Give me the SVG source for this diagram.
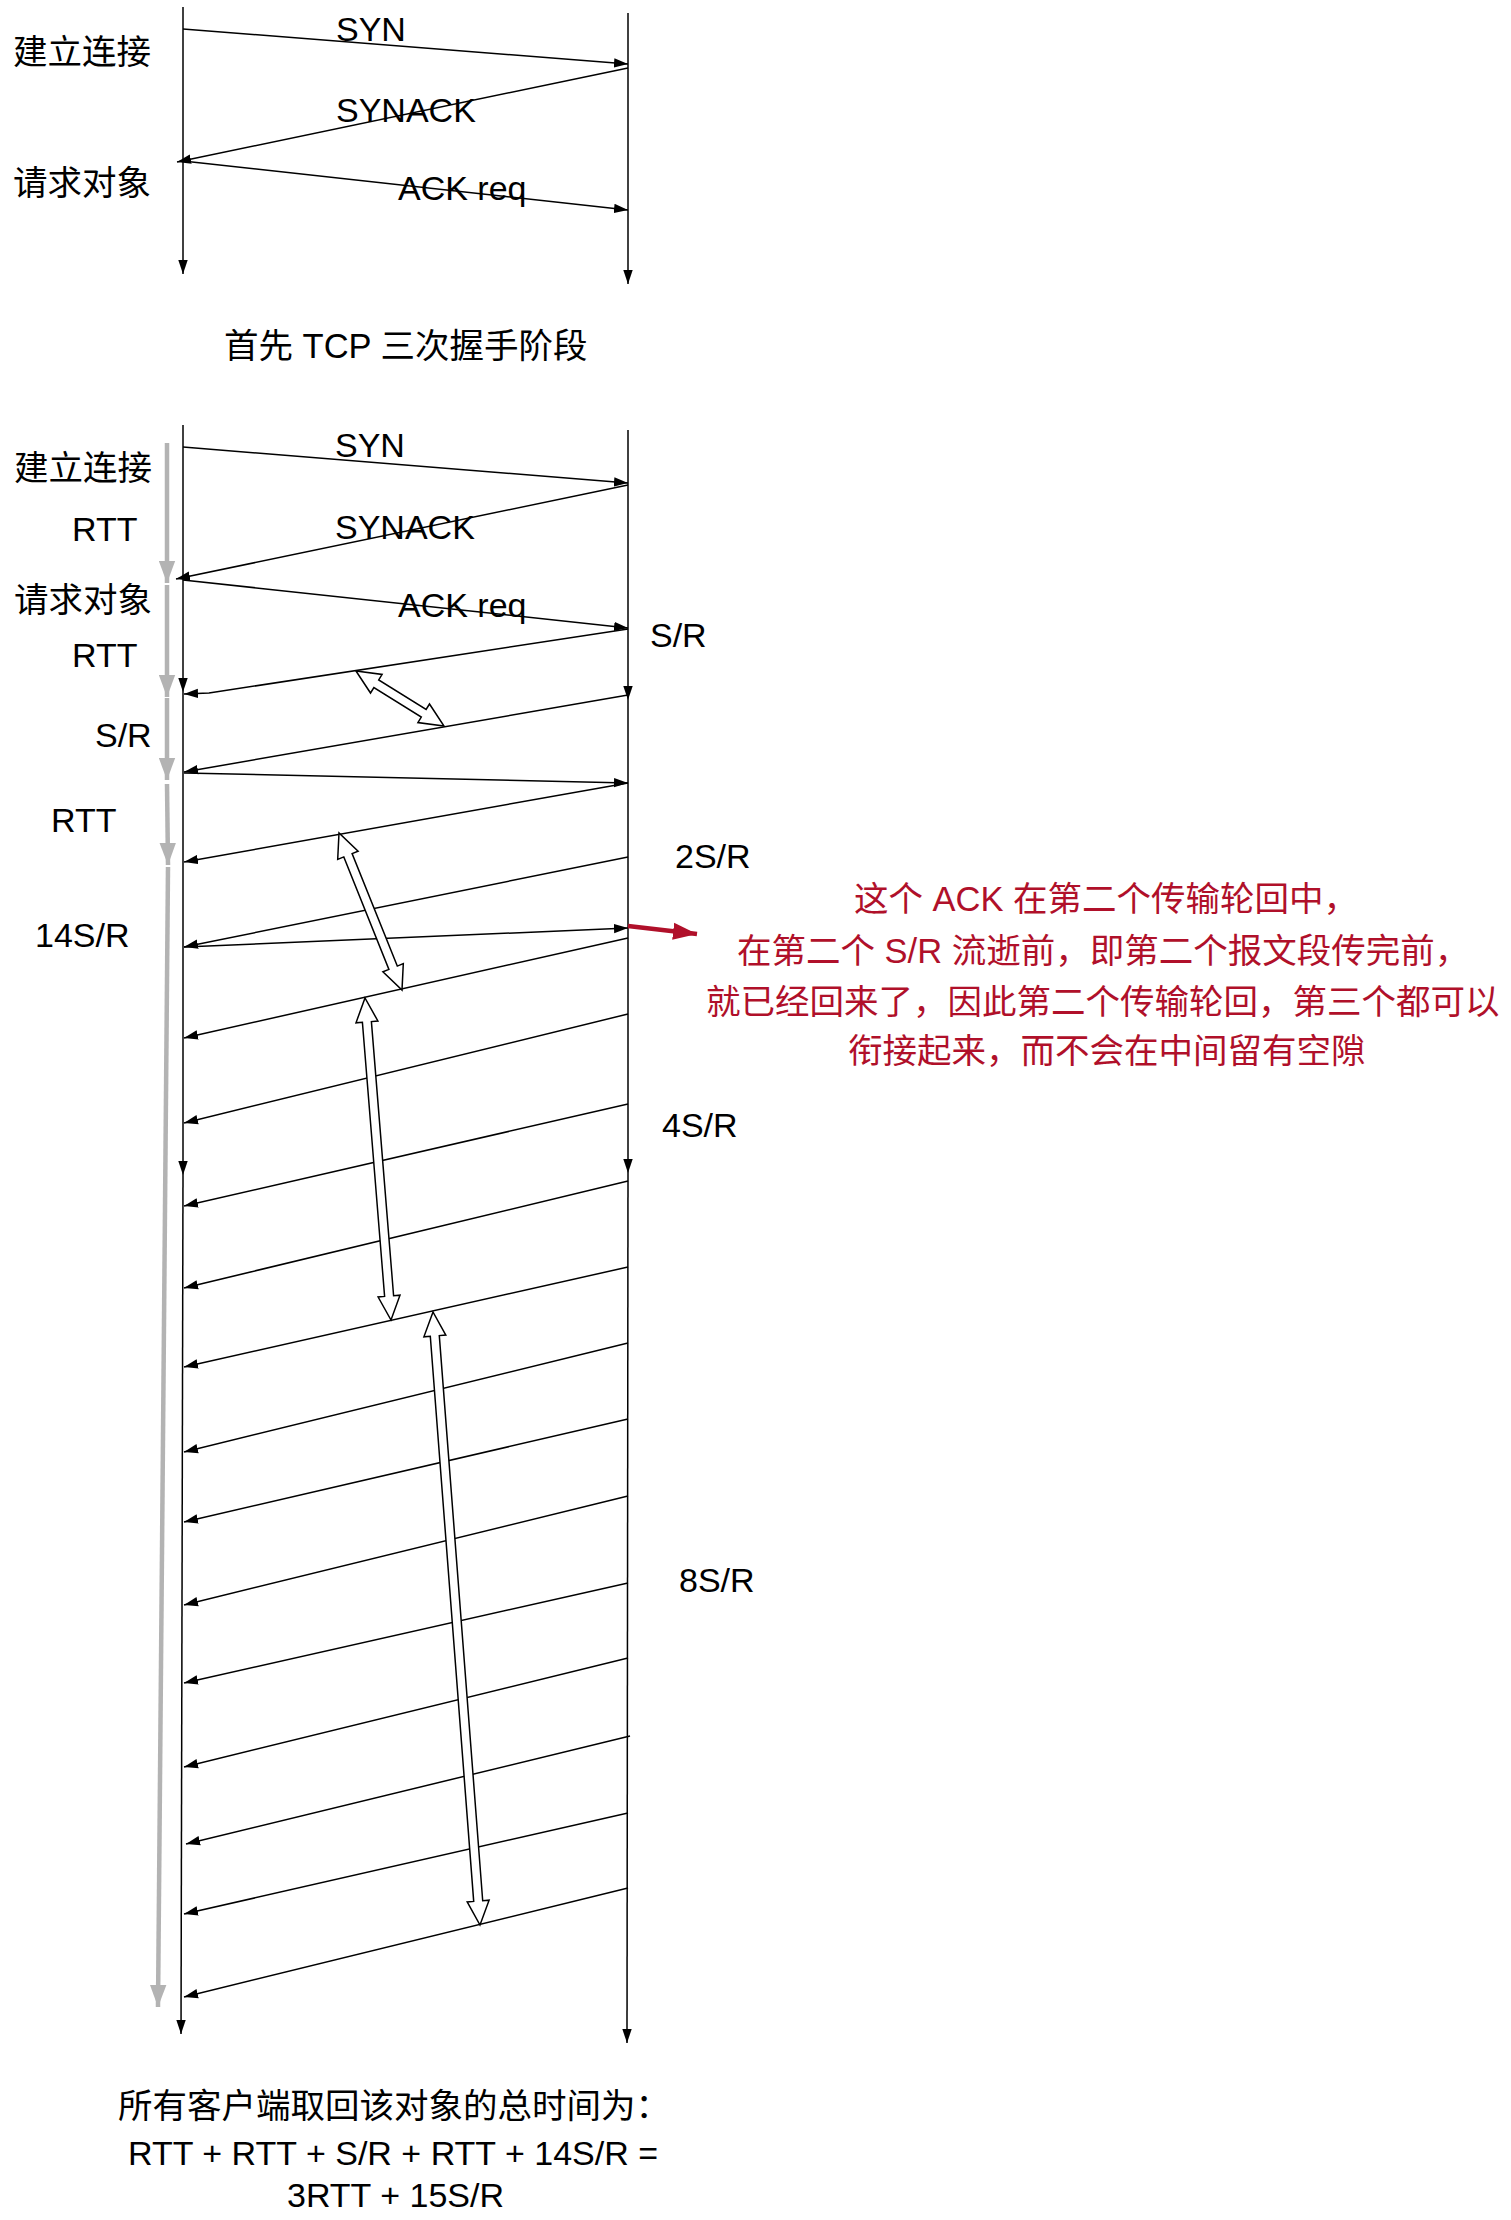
<svg xmlns="http://www.w3.org/2000/svg" width="1511" height="2220" viewBox="0 0 1511 2220">
<style>
.t{font-family:"Liberation Sans","Noto Sans CJK SC",sans-serif;font-size:34px;fill:#000}
.c{font-family:"Liberation Sans","Noto Sans CJK SC",sans-serif;font-size:34.5px;fill:#000}
.r{font-family:"Liberation Sans","Noto Sans CJK SC",sans-serif;font-size:34.5px;fill:#B0102A}
.ar{stroke:#000;stroke-width:1.5;fill:none;marker-end:url(#blk)}
.gr{stroke:#B3B3B3;stroke-width:4.5;fill:none;marker-end:url(#gry)}
.dbl{fill:#fff;stroke:#000;stroke-width:1.5;stroke-linejoin:miter}
</style>
<defs>
<marker id="blk" markerUnits="userSpaceOnUse" markerWidth="14" markerHeight="10" viewBox="0 0 14 10" refX="14" refY="5" orient="auto">
<path d="M0,0.3 L14,5 L0,9.7 z" fill="#000"/>
</marker>
<marker id="gry" markerUnits="userSpaceOnUse" markerWidth="22" markerHeight="17" viewBox="0 0 22 17" refX="22" refY="8.5" orient="auto">
<path d="M0,0.3 L22,8.5 L0,16.7 z" fill="#B3B3B3"/>
</marker>
<marker id="red" markerUnits="userSpaceOnUse" markerWidth="24" markerHeight="18" viewBox="0 0 24 18" refX="24" refY="9" orient="auto">
<path d="M0,0.5 L24,9 L0,17.5 z" fill="#B0102A"/>
</marker>
</defs>
<rect width="1511" height="2220" fill="#fff"/>

<g id="connectors">
<!-- top lifelines -->
<line class="ar" x1="183" y1="7" x2="183" y2="274"/>
<line class="ar" x1="628" y1="13" x2="628" y2="284"/>
<!-- top messages -->
<line class="ar" x1="183" y1="29" x2="628" y2="64"/>
<line class="ar" x1="628" y1="68" x2="177" y2="162"/>
<line class="ar" x1="183" y1="161" x2="628" y2="210"/>

<!-- second lifelines -->
<line class="ar" x1="183" y1="425" x2="183" y2="692"/>
<line class="ar" x1="183" y1="692" x2="183" y2="1175"/>
<line class="ar" x1="183" y1="1175" x2="181" y2="2034"/>
<line class="ar" x1="628" y1="430" x2="628" y2="700"/>
<line class="ar" x1="628" y1="700" x2="628" y2="1173"/>
<line class="ar" x1="628" y1="1173" x2="627" y2="2043"/>

<!-- gray time arrows -->
<line class="gr" x1="167" y1="443" x2="167" y2="583"/>
<line class="gr" x1="167" y1="585" x2="167" y2="697"/>
<line class="gr" x1="167" y1="698" x2="167" y2="780"/>
<line class="gr" x1="167" y1="784" x2="168" y2="865"/>
<line class="gr" x1="168" y1="867" x2="158" y2="2007"/>

<!-- second messages -->
<line class="ar" x1="183" y1="447" x2="628" y2="483"/>
<line class="ar" x1="628" y1="485" x2="176" y2="579"/>
<line class="ar" x1="183" y1="580" x2="628" y2="628"/>
<polyline class="ar" points="628,629 209,693 184,694"/>
<line class="ar" x1="628" y1="695" x2="184" y2="772"/>
<line class="ar" x1="184" y1="773" x2="628" y2="783"/>
<line class="ar" x1="628" y1="783" x2="184" y2="862"/>
<line class="ar" x1="628" y1="857" x2="184" y2="947"/>
<line class="ar" x1="184" y1="947" x2="628" y2="928"/>
<line class="ar" x1="628" y1="938" x2="184" y2="1038"/>
<line class="ar" x1="628" y1="1014" x2="184" y2="1123"/>
<line class="ar" x1="628" y1="1104" x2="184" y2="1206"/>
<line class="ar" x1="628" y1="1181" x2="184" y2="1288"/>
<line class="ar" x1="628" y1="1267" x2="184" y2="1367"/>
<line class="ar" x1="628" y1="1343" x2="184" y2="1452"/>
<line class="ar" x1="628" y1="1419" x2="184" y2="1522"/>
<line class="ar" x1="628" y1="1496" x2="184" y2="1605"/>
<line class="ar" x1="628" y1="1583" x2="184" y2="1683"/>
<line class="ar" x1="628" y1="1658" x2="184" y2="1767"/>
<line class="ar" x1="630" y1="1736" x2="186" y2="1844"/>
<line class="ar" x1="628" y1="1813" x2="184" y2="1914"/>
<line class="ar" x1="628" y1="1888" x2="184" y2="1997"/>

<!-- red pointer -->
<line x1="628" y1="926" x2="697" y2="934" stroke="#B0102A" stroke-width="4.5" marker-end="url(#red)"/>

<!-- hollow double arrows -->
<polygon class="dbl" points="356,671 370.5,693 373.9,687.5 421.3,717.1 417.9,722.6 444,726 429.5,704 426.1,709.5 378.7,679.9 382.1,674.4"/>
<polygon class="dbl" points="339,833 337.7,859.4 343.8,856.9 388.9,969.4 382.9,971.8 402,990 403.3,963.6 397.3,966.1 352.1,853.6 358.1,851.2"/>
<polygon class="dbl" points="365,998 356,1022.8 362.4,1022.3 384.6,1296.4 378.1,1297 391,1320 400,1295.2 393.6,1295.7 371.4,1021.6 377.9,1021"/>
<polygon class="dbl" points="433,1312 423.9,1336.8 430.3,1336.3 473.7,1901.4 467.2,1901.9 480,1925 489.1,1900.2 482.7,1900.7 439.3,1335.6 445.8,1335.1"/>
</g>

<g id="top-labels">
<g id="t-conn"><text class="c" x="13" y="64">建立连接</text></g>
<g id="t-req"><text class="c" x="13" y="195">请求对象</text></g>
<g id="t-syn"><text class="t" x="336" y="41">SYN</text></g>
<g id="t-synack"><text class="t" x="336" y="122">SYNACK</text></g>
<g id="t-ack"><text class="t" x="398" y="200">ACK req</text></g>
<g id="t-title"><text class="c" x="224" y="358">首先 TCP 三次握手阶段</text></g>
</g>

<g id="main-labels">
<g id="m-conn"><text class="c" x="14" y="480">建立连接</text></g>
<g id="m-rtt1"><text class="t" x="72" y="541">RTT</text></g>
<g id="m-req"><text class="c" x="14" y="612">请求对象</text></g>
<g id="m-rtt2"><text class="t" x="72" y="667">RTT</text></g>
<g id="m-sr"><text class="t" x="95" y="747">S/R</text></g>
<g id="m-rtt3"><text class="t" x="51" y="832">RTT</text></g>
<g id="m-14sr"><text class="t" x="35" y="947">14S/R</text></g>
<g id="m-syn"><text class="t" x="335" y="457">SYN</text></g>
<g id="m-synack"><text class="t" x="335" y="539">SYNACK</text></g>
<g id="m-ack"><text class="t" x="398" y="617">ACK req</text></g>
<g id="m-sr-r"><text class="t" x="650" y="647">S/R</text></g>
<g id="m-2sr"><text class="t" x="675" y="868">2S/R</text></g>
<g id="m-4sr"><text class="t" x="662" y="1137">4S/R</text></g>
<g id="m-8sr"><text class="t" x="679" y="1592">8S/R</text></g>
</g>

<g id="note">
<text class="r" x="854" y="911">这个 ACK 在第二个传输轮回中，</text>
<text class="r" x="737" y="963">在第二个 S/R 流逝前，即第二个报文段传完前，</text>
<text class="r" x="706" y="1014">就已经回来了，因此第二个传输轮回，第三个都可以</text>
<text class="r" x="848" y="1063">衔接起来，而不会在中间留有空隙</text>
</g>

<g id="summary">
<text class="c" x="118" y="2118">所有客户端取回该对象的总时间为：</text>
<text class="t" x="128" y="2165">RTT + RTT + S/R + RTT + 14S/R =</text>
<text class="t" x="287" y="2207">3RTT + 15S/R</text>
</g>
</svg>
